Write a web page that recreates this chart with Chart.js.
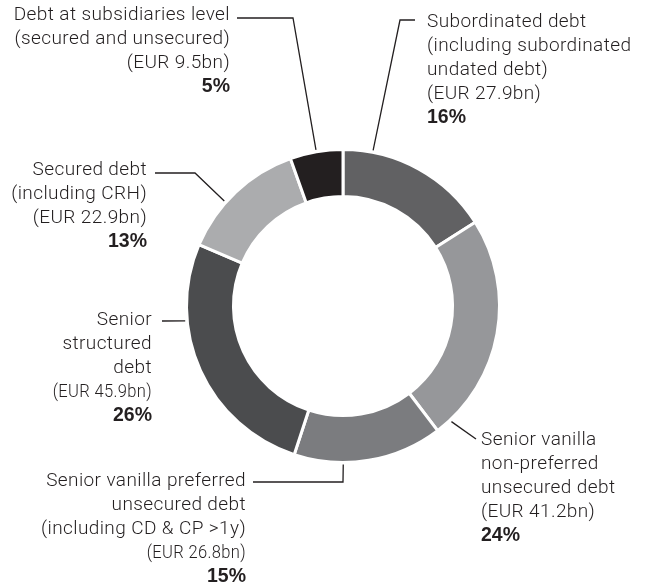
<!DOCTYPE html>
<html>
<head>
<meta charset="utf-8">
<script src="https://cdn.jsdelivr.net/npm/chart.js@4.4.1/dist/chart.umd.min.js"></script>
<style>
  html, body { margin: 0; padding: 0; background: #fff; }
  #wrap { width: 649px; height: 588px; }
</style>
</head>
<body>
<div id="wrap"><canvas id="debt-chart"></canvas></div>
<script>
// Funding structure by debt type, clockwise from 12 o'clock
const categories = [
  ['Subordinated debt', '(including subordinated', 'undated debt)'],
  ['Senior vanilla', 'non-preferred', 'unsecured debt'],
  ['Senior vanilla preferred', 'unsecured debt', '(including CD & CP >1y)'],
  ['Senior', 'structured', 'debt'],
  ['Secured debt', '(including CRH)'],
  ['Debt at subsidiaries level', '(secured and unsecured)']
];
const amounts = [27.9, 41.2, 26.8, 45.9, 22.9, 9.5]; // EUR bn
const colours = ['#616163', '#96979a', '#7b7c7f', '#4b4c4e', '#abacae', '#231f20'];

// where each label block sits and how its leader line runs to the ring
const labelLayout = [
  { x: 427, y: 22, align: 'left', leader: [[415, 20], [400, 20]], at: 0.19 },
  { x: 481, y: 440, align: 'left', leader: [[476, 439]], at: 0.93 },
  { x: 246, y: 481, align: 'right', leader: [[253, 482], [343, 482]], at: 0.67, narrow: true },
  { x: 152, y: 320, align: 'right', leader: [[162, 321]], at: 0.70, narrow: true },
  { x: 147, y: 170, align: 'right', leader: [[155, 173], [195, 173]], at: 0.39 },
  { x: 230, y: 15, align: 'right', leader: [[237, 18], [293, 18]], at: 0.5 }
];

const total = amounts.reduce((a, b) => a + b, 0);
const lineGap = 24;
const ink = '#231f20';
const lightFont = '300 19px Roboto';
const boldFont = 'bold 19.5px "Liberation Sans"';

const calloutPlugin = {
  id: 'callouts',
  afterDraw(chart) {
    const ctx = chart.ctx;
    const arcs = chart.getDatasetMeta(0).data;
    ctx.save();
    ctx.fillStyle = ink;
    ctx.strokeStyle = ink;
    ctx.lineWidth = 1.3;
    ctx.textBaseline = 'middle';

    arcs.forEach((arc, i) => {
      const cfg = labelLayout[i];
      const { x, y, startAngle, endAngle, outerRadius } = arc.getProps(['x', 'y', 'startAngle', 'endAngle', 'outerRadius'], true);
      const a = startAngle + (endAngle - startAngle) * cfg.at;
      const r = outerRadius + 2;
      const ex = x + Math.cos(a) * r;
      const ey = y + Math.sin(a) * r;

      // leader line
      ctx.beginPath();
      ctx.moveTo(cfg.leader[0][0], cfg.leader[0][1]);
      cfg.leader.slice(1).forEach(p => ctx.lineTo(p[0], p[1]));
      ctx.lineTo(ex, ey);
      ctx.stroke();

      // text block
      const lines = categories[i].concat(['(EUR ' + amounts[i].toFixed(1) + 'bn)']);
      ctx.textAlign = cfg.align;
      ctx.font = lightFont;
      ctx.letterSpacing = '0.4px';
      lines.forEach((txt, j) => {
        const ty = cfg.y + j * lineGap;
        if (cfg.narrow && j === lines.length - 1) {
          ctx.save();
          ctx.translate(cfg.x, ty);
          ctx.scale(0.87, 1);
          ctx.fillText(txt, 0, 0);
          ctx.restore();
        } else {
          ctx.fillText(txt, cfg.x, ty);
        }
      });
      ctx.letterSpacing = '0px';
      ctx.font = boldFont;
      const pct = Math.round(amounts[i] / total * 100) + '%';
      ctx.fillText(pct, cfg.x, cfg.y + lines.length * lineGap);
    });
    ctx.restore();
  }
};

const ctx = document.getElementById('debt-chart').getContext('2d');
new Chart(ctx, {
  type: 'doughnut',
  data: {
    labels: categories.map(c => c.join(' ')),
    datasets: [{
      data: amounts,
      backgroundColor: colours,
      borderColor: '#ffffff',
      borderWidth: 3
    }]
  },
  options: {
    responsive: true,
    maintainAspectRatio: false,
    animation: false,
    cutout: '70%',
    layout: {
      padding: { left: 185, right: 148, top: 148, bottom: 124 }
    },
    plugins: {
      legend: { display: false },
      tooltip: { enabled: false }
    }
  },
  plugins: [calloutPlugin]
});
</script>
</body>
</html>
